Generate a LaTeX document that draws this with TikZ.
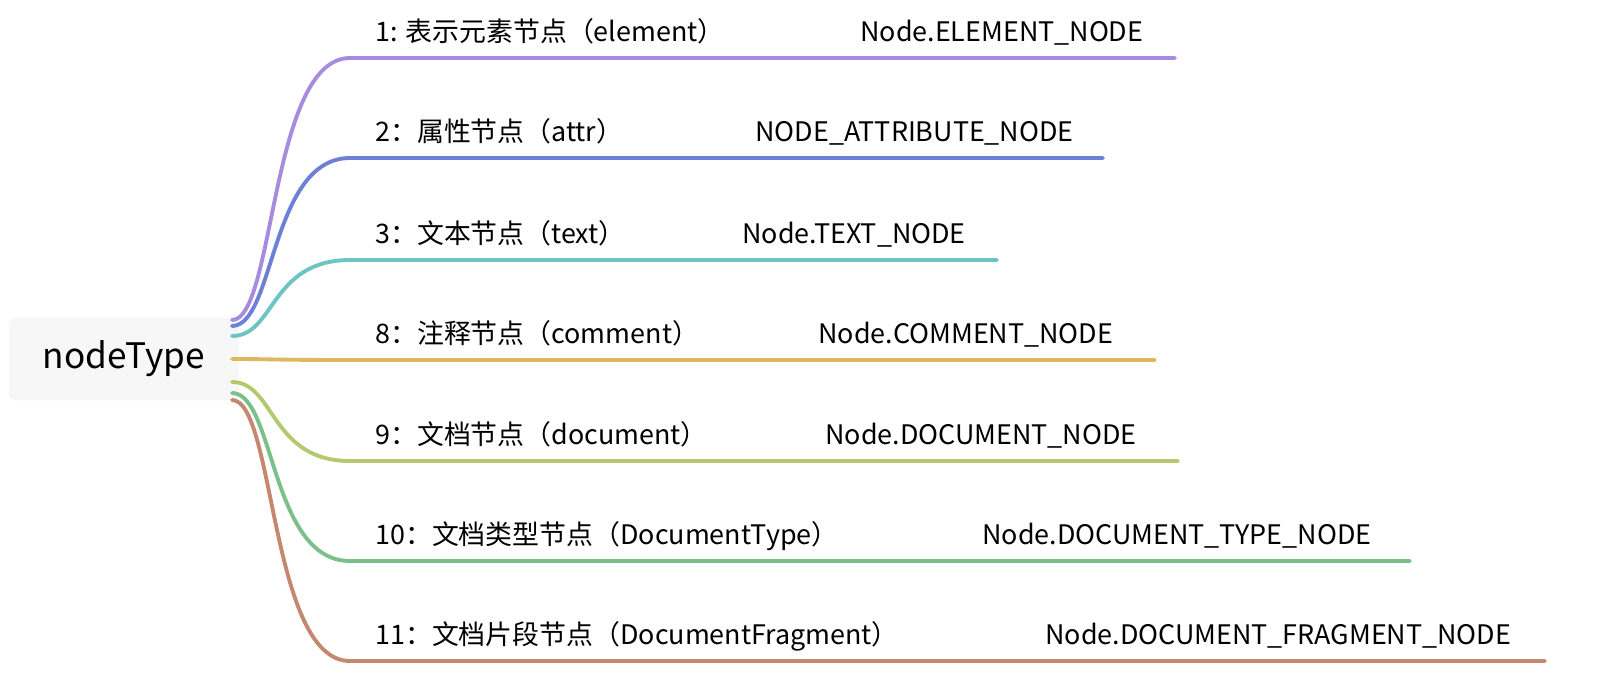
\documentclass[tikz,border=0pt]{standalone}
\usepackage{fontspec}
\setmainfont{Noto Sans CJK SC}
\definecolor{cA}{HTML}{A78BDE}
\definecolor{cB}{HTML}{6B80D6}
\definecolor{cC}{HTML}{6CC5C2}
\definecolor{cD}{HTML}{DDB85C}
\definecolor{cE}{HTML}{B4C96E}
\definecolor{cF}{HTML}{7BC088}
\definecolor{cG}{HTML}{C4886F}
\tikzset{
root/.style = {rectangle, rounded corners = 4pt, fill = gray!6, minimum width = 4.6cm,
   minimum height = 1.66cm, font = \fontsize{20}{23}\selectfont},
leaf/.style = {anchor = base west, inner sep = 0pt, font = \fontsize{15.3}{18}\selectfont},
branch/.style = {line width = 2.2pt, line cap = round}
}
\begin{document}
\begin{tikzpicture}[x = 0.02cm, y = -0.02cm]
\useasboundingbox (0,0) rectangle (1600,680);

%% Root
\node [root] (root) at (124,359) {nodeType};

%% Branches
\foreach \i/\col/\ys/\y/\xe/\xb/\ta/\tb in {
   1/cA/320/58/1175/860/{1: 表示元素节点（element）}/Node.ELEMENT\_NODE,
   2/cB/326/158/1103/755/{2：属性节点（attr）}/NODE\_ATTRIBUTE\_NODE,
   3/cC/336/260/997/742/{3：文本节点（text）}/Node.TEXT\_NODE,
   4/cD/359/360/1155/818/{8：注释节点（comment）}/Node.COMMENT\_NODE,
   5/cE/382/461/1178/825/{9：文档节点（document）}/Node.DOCUMENT\_NODE,
   6/cF/393/561/1410/982/{10：文档类型节点（DocumentType）}/Node.DOCUMENT\_TYPE\_NODE,
   7/cG/400/661/1545/1045/{11：文档片段节点（DocumentFragment）}/Node.DOCUMENT\_FRAGMENT\_NODE} {
   \coordinate (s\i) at (232,\ys);
   \coordinate (m\i) at (350,\y);
   \coordinate (e\i) at (\xe,\y);
   \draw [branch, \col] (s\i) .. controls (275,\ys) and (270,\y) .. (m\i) -- (e\i);
   \node [leaf] (k\i) at (375,\y-17) {\ta};
   \node [leaf] (v\i) at (\xb,\y-17) {\tb};
}

\end{tikzpicture}
\end{document}
